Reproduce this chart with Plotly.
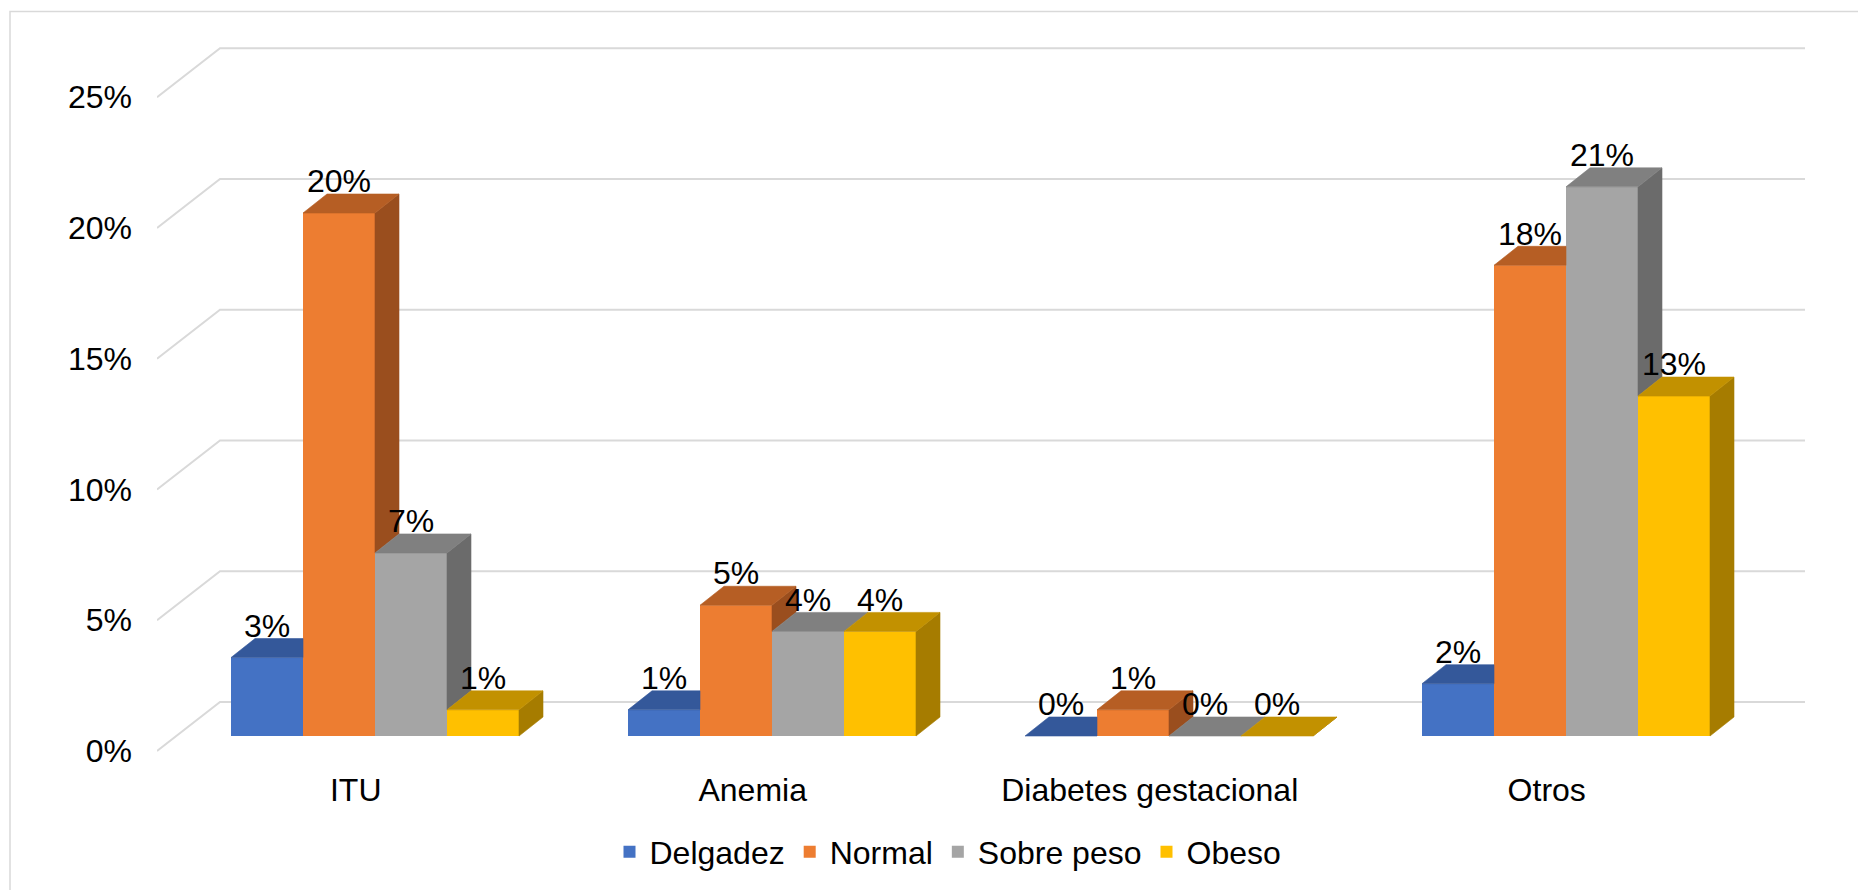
import plotly.graph_objects as go

# ---- data -------------------------------------------------------------
categories = ["ITU", "Anemia", "Diabetes gestacional", "Otros"]
series_names = ["Delgadez", "Normal", "Sobre peso", "Obeso"]
delgadez = [3, 1, 0, 2]
normal = [20, 5, 1, 18]
sobre_peso = [7, 4, 0, 21]
obeso = [1, 4, 0, 13]
y_ticks = [0, 5, 10, 15, 20, 25]

series_values = [delgadez, normal, sobre_peso, obeso]

# ---- styling ----------------------------------------------------------
front_colors = ["#4472C4", "#ED7D31", "#A5A5A5", "#FFC000"]
top_colors = ["#34589A", "#B65E24", "#808080", "#C29100"]
side_colors = ["#2B4A80", "#9A4E1E", "#6B6B6B", "#A67C00"]
FONT = "Liberation Sans, Arial, sans-serif"
FONT_SIZE = 32
GRID = "#D9D9D9"

W, H = 1858, 890

# pixel geometry of the oblique (pseudo 3-D) box
PX_PER_CAT = 397.0     # distance between category groups
PX_PER_PCT = 26.15     # vertical pixels per percentage point
CAT0_PX = 375.0        # horizontal centre of first group's front faces
BASE_PX = 736.0        # floor line of the bars' front faces
BAR_PX = 72.0          # width of one bar
DEPTH_DX_PX, DEPTH_DY_PX = 24.0, 19.0   # bar depth shear
WALL_FRONT = (157.0, 751.0)             # front-left corner of side wall
WALL_BACK = (220.0, 702.0)              # back-left corner of side wall
WALL_RIGHT_PX = 1805.0                  # right end of back-wall gridlines


def xd(px):
    return (px - CAT0_PX) / PX_PER_CAT


def yd(py):
    return (BASE_PX - py) / PX_PER_PCT


w = BAR_PX / PX_PER_CAT
DX = DEPTH_DX_PX / PX_PER_CAT
DY = DEPTH_DY_PX / PX_PER_PCT
n_series = len(series_values)

fig = go.Figure()

# front faces of the bars
for j, (name, vals) in enumerate(zip(series_names, series_values)):
    fig.add_trace(go.Bar(
        x=list(range(len(categories))), y=vals, name=name,
        width=w, offset=(j - n_series / 2) * w,
        marker=dict(color=front_colors[j], line=dict(width=0)),
        hoverinfo="skip",
    ))


def poly(xs, ys, color):
    fig.add_trace(go.Scatter(
        x=xs + [xs[0]], y=ys + [ys[0]], mode="lines", fill="toself",
        fillcolor=color, line=dict(color=color, width=0.6),
        showlegend=False, hoverinfo="skip",
    ))


# top and right-side faces, clipped where the neighbouring bar hides them
for i in range(len(categories)):
    for j in range(n_series):
        h = series_values[j][i]
        xl = i + (j - n_series / 2) * w
        xr = xl + w
        g = series_values[j + 1][i] if j + 1 < n_series else None

        # side face
        if g is None:
            poly([xr, xr + DX, xr + DX, xr], [0, DY, h + DY, h], side_colors[j])
        elif g < h:
            poly([xr, xr + DX, xr + DX, xr], [g, g + DY, h + DY, h], side_colors[j])

        # top face
        if g is None or g <= h:
            xs = [xl, xr, xr + DX, xl + DX]
            ys = [h, h, h + DY, h + DY]
        elif g >= h + DY:
            xs = [xl, xr, xr, xl + DX]
            ys = [h, h, h + DY, h + DY]
        else:
            s = 1 - (g - h) / DY
            xs = [xl, xr, xr, xr + DX * s, xl + DX]
            ys = [h, h, g, h + DY, h + DY]
        poly(xs, ys, top_colors[j])

# value labels above each bar
for j in range(n_series):
    vals = series_values[j]
    fig.add_trace(go.Scatter(
        x=[i + (j - n_series / 2 + 0.5) * w for i in range(len(categories))],
        y=[v + 1.1 for v in vals],
        text=[f"{v}%" for v in vals],
        mode="text", textposition="middle center",
        textfont=dict(family=FONT, size=FONT_SIZE, color="#000000"),
        showlegend=False, hoverinfo="skip",
    ))

# side wall diagonals and back wall gridlines
shapes = []
xw0, yw0 = xd(WALL_FRONT[0]), yd(WALL_FRONT[1])
xw1, yw1 = xd(WALL_BACK[0]), yd(WALL_BACK[1])
xw2 = xd(WALL_RIGHT_PX)
for k in y_ticks:
    shapes.append(dict(
        type="path", xref="x", yref="y", layer="below",
        path=f"M{xw0},{k + yw0} L{xw1},{k + yw1} L{xw2},{k + yw1}",
        line=dict(color=GRID, width=2),
    ))

# chart border
shapes.append(dict(
    type="rect", xref="paper", yref="paper",
    x0=10 / W, x1=1.002, y0=-0.002, y1=1 - 11.5 / H,
    line=dict(color=GRID, width=1.5), layer="below",
))

x_left = WALL_FRONT[0]
fig.update_layout(
    width=W, height=H,
    margin=dict(l=0, r=0, t=0, b=0),
    paper_bgcolor="white", plot_bgcolor="white",
    barmode="overlay",
    shapes=shapes,
    font=dict(family=FONT, size=FONT_SIZE, color="#000000"),
    xaxis=dict(
        domain=[x_left / W, 1],
        range=[xd(x_left), xd(W)],
        anchor="free", position=1 - 768 / H,
        tickmode="array",
        tickvals=[i - (WALL_FRONT[1] - BASE_PX) / (WALL_FRONT[1] - WALL_BACK[1])
                  * (WALL_BACK[0] - WALL_FRONT[0]) / PX_PER_CAT
                  for i in range(len(categories))],
        ticktext=categories,
        showgrid=False, zeroline=False, showline=False, ticks="",
        tickfont=dict(family=FONT, size=FONT_SIZE, color="#000000"),
        fixedrange=True,
    ),
    yaxis=dict(
        domain=[0, 1],
        range=[yd(H), yd(0)],
        tickmode="array",
        tickvals=[k + yw0 for k in y_ticks],
        ticktext=[f"{k}%" for k in y_ticks],
        showgrid=False, zeroline=False, showline=False, ticks="",
        ticklabelstandoff=24,
        tickfont=dict(family=FONT, size=FONT_SIZE, color="#000000"),
        fixedrange=True,
    ),
    legend=dict(
        orientation="h", x=948 / W, xanchor="center",
        y=1 - 852 / H, yanchor="middle",
        font=dict(family=FONT, size=FONT_SIZE, color="#000000"),
        bgcolor="rgba(0,0,0,0)", traceorder="normal",
    ),
    showlegend=True,
)

fig.write_html("out.html")
